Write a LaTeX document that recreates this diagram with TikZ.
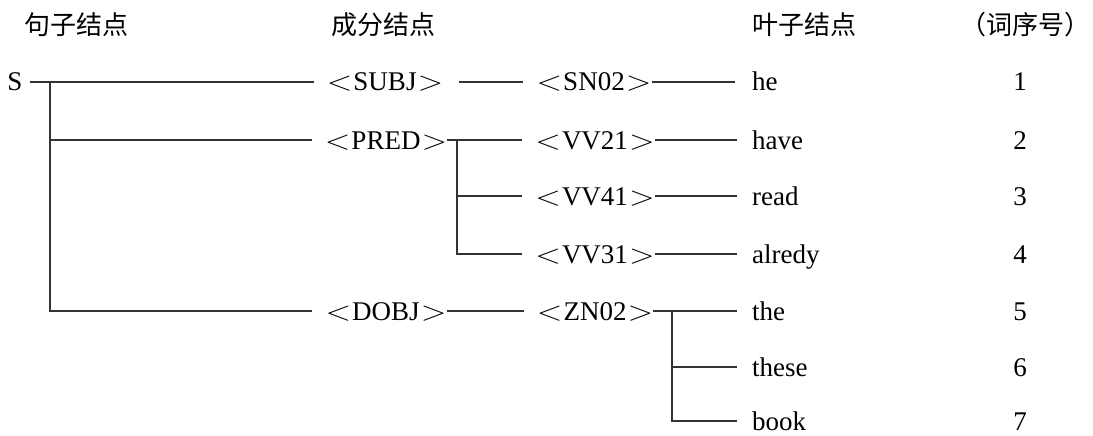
\documentclass[tikz,border=0pt]{standalone}
\usepackage{fontspec}
\setmainfont{Liberation Serif}
\newfontfamily\cjk{Noto Sans CJK SC}
\usepackage{graphicx}
\newcommand{\lab}[1]{\scalebox{1.35}[1.1]{$<$}\kern1pt#1\kern1pt\scalebox{1.35}[1.1]{$>$}}
\begin{document}
\begin{tikzpicture}[x=1pt,y=-1pt,
  txt/.style={inner sep=0pt, font=\fontsize{27}{32}\selectfont, text height=20pt, text depth=2pt},
  hdr/.style={inner sep=0pt, font=\cjk\fontsize{26}{31}\selectfont},
  leaf/.style={txt, anchor=west},
  conn/.style={line width=1.4pt, draw=black!80}]
\useasboundingbox (0,0) rectangle (1093,436);
% headers
\node[hdr] (h1) at (76,25) {句子结点};
\node[hdr] (h2) at (383,25) {成分结点};
\node[hdr] (h3) at (804,25) {叶子结点};
\node[hdr] (h4) at (1025,25) {（词序号）};
% sentence node
\node[txt] (S) at (15,82) {S};
% constituent nodes
\node[txt] (SUBJ) at (385,82) {\lab{SUBJ}};
\node[txt] (PRED) at (386,140) {\lab{PRED}};
\node[txt] (DOBJ) at (386,311) {\lab{DOBJ}};
% intermediate nodes
\node[txt] (SN02) at (594,82) {\lab{SN02}};
\node[txt] (VV21) at (595,140) {\lab{VV21}};
\node[txt] (VV41) at (595,196) {\lab{VV41}};
\node[txt] (VV31) at (595,254) {\lab{VV31}};
\node[txt] (ZN02) at (595,311) {\lab{ZN02}};
% leaves
\node[leaf] (he) at (752,82) {he};
\node[leaf] (have) at (752,140) {have};
\node[leaf] (read) at (752,196) {read};
\node[leaf] (alredy) at (752,254) {alredy};
\node[leaf] (the) at (752,311) {the};
\node[leaf] (these) at (752,367) {these};
\node[leaf] (book) at (752,421) {book};
% numbers
\node[txt] (n1) at (1020,82) {1};
\node[txt] (n2) at (1020,140) {2};
\node[txt] (n3) at (1020,196) {3};
\node[txt] (n4) at (1020,254) {4};
\node[txt] (n5) at (1020,311) {5};
\node[txt] (n6) at (1020,367) {6};
\node[txt] (n7) at (1020,421) {7};
% junctions
\coordinate (j0) at (50,82);
\coordinate (j1) at (457,140);
\coordinate (j2) at (672,311);
% connectors
\draw[conn, shorten <=7pt, shorten >=13pt] (S.east) -- (SUBJ.west);
\draw[conn, shorten >=13pt] (j0) |- (PRED.west);
\draw[conn, shorten >=13pt] (j0) |- (DOBJ.west);
\draw[conn, shorten <=16pt, shorten >=13pt] (SUBJ.east) -- (SN02.west);
\draw[conn, shorten >=17pt] (SN02.east) -- (he.west);
\draw[conn, shorten >=13pt] (PRED.east) -- (VV21.west);
\draw[conn, shorten >=13pt] (j1) |- (VV41.west);
\draw[conn, shorten >=13pt] (j1) |- (VV31.west);
\draw[conn, shorten >=15pt] (VV21.east) -- (have.west);
\draw[conn, shorten >=15pt] (VV41.east) -- (read.west);
\draw[conn, shorten >=15pt] (VV31.east) -- (alredy.west);
\draw[conn, shorten >=13pt] (DOBJ.east) -- (ZN02.west);
\draw[conn, shorten >=15pt] (ZN02.east) -- (the.west);
\draw[conn, shorten >=15pt] (j2) |- (these.west);
\draw[conn, shorten >=15pt] (j2) |- (book.west);
\end{tikzpicture}
\end{document}
